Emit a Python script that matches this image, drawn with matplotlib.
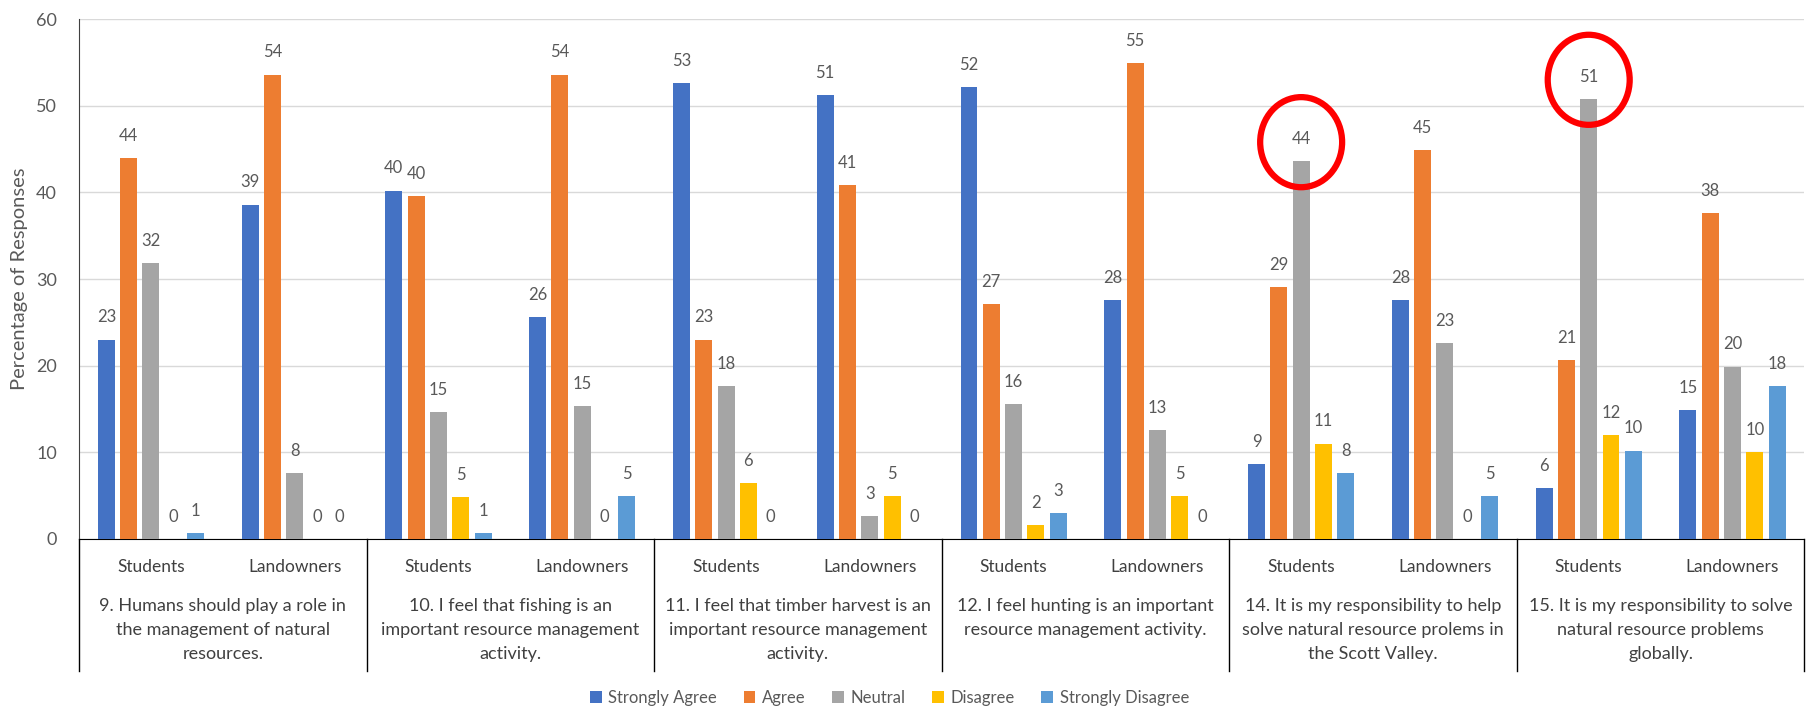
import matplotlib.pyplot as plt
import numpy as np
from matplotlib.patches import Ellipse

plt.rcParams['font.family'] = ['Lato', 'DejaVu Sans']

questions = ['9. Humans should play a role in\nthe management of natural\nresources.',
             '10. I feel that fishing is an\nimportant resource management\nactivity.',
             '11. I feel that timber harvest is an\nimportant resource management\nactivity.',
             '12. I feel hunting is an important\nresource management activity.',
             '14. It is my responsibility to help\nsolve natural resource prolems in\nthe Scott Valley.',
             '15. It is my responsibility to solve\nnatural resource problems\nglobally.']
groups = ['Students', 'Landowners']
series = ['Strongly Agree', 'Agree', 'Neutral', 'Disagree', 'Strongly Disagree']
colors = ['#4472C4', '#ED7D31', '#A5A5A5', '#FFC000', '#5B9BD5']

# one value per category (question x group), in order Q9 S, Q9 L, Q10 S, ...
strongly_agree = [23.0, 38.6, 40.2, 25.6, 52.6, 51.2, 52.2, 27.6, 8.6, 27.6, 5.9, 14.9]
agree = [44.0, 53.6, 39.6, 53.6, 23.0, 40.8, 27.1, 54.9, 29.1, 44.9, 20.6, 37.6]
neutral = [31.8, 7.6, 14.6, 15.3, 17.6, 2.6, 15.6, 12.6, 43.6, 22.6, 50.8, 19.9]
disagree = [0, 0, 4.8, 0, 6.4, 4.9, 1.6, 4.9, 11.0, 0, 12.0, 10.0]
strongly_disagree = [0.66, 0, 0.66, 4.9, 0, 0, 3.0, 0, 7.6, 4.9, 10.2, 17.6]
highlighted = [(8, 2), (10, 2)]  # (category, series) circled in red

data = [strongly_agree, agree, neutral, disagree, strongly_disagree]
ncat = len(strongly_agree)
x = np.arange(ncat)
step = 0.155
width = 0.118
text_col = '#595959'

fig = plt.figure(figsize=(18.08, 7.10), dpi=100)
ax = fig.add_axes([0.0437, 0.241, 0.9543, 0.732])

for i, (name, vals) in enumerate(zip(series, data)):
    pos = x + (i - 2) * step
    ax.bar(pos, vals, width, color=colors[i], label=name, zorder=3)
    for px, v in zip(pos, vals):
        ax.annotate('%.0f' % v, (px, v), xytext=(0, 16), textcoords='offset points',
                    ha='center', va='center', fontsize=12, color=text_col)

for c, s in highlighted:
    v = data[s][c]
    ax.add_patch(Ellipse((x[c] + (s - 2) * step, v + 2.2), 0.57, 10.4, fill=False,
                         edgecolor='#FF0000', linewidth=4.5, zorder=5, clip_on=False))

ax.set_xlim(-0.5, ncat - 0.5)
ax.set_ylim(0, 60)
ax.set_yticks(range(0, 61, 10))
ax.tick_params(axis='y', length=0, labelsize=13, labelcolor=text_col, pad=16)
ax.set_xticks([])
ax.grid(axis='y', color='#D9D9D9', linewidth=1, zorder=0)
ax.set_axisbelow(True)
for sp in ['top', 'right']:
    ax.spines[sp].set_visible(False)
ax.spines['left'].set_color('#404040')
ax.spines['bottom'].set_color('#000000')
ax.set_ylabel('Percentage of Responses', fontsize=14.5, color=text_col, labelpad=6)

tr = ax.get_xaxis_transform()
for c in range(ncat):
    ax.text(x[c], -0.054, groups[c % 2], transform=tr, ha='center', va='center',
            fontsize=12.5, color='#404040')
for q, txt in enumerate(questions):
    ax.text(2 * q + 0.5, -0.114, txt, transform=tr, ha='center', va='top',
            fontsize=13, color='#404040', linespacing=1.62)
for b in range(len(questions) + 1):
    ax.plot([2 * b - 0.5, 2 * b - 0.5], [0, -0.254], transform=tr, color='#000000',
            linewidth=1, clip_on=False)

fig.legend(loc='center', bbox_to_anchor=(0.492, 0.017), ncol=5, frameon=False,
           fontsize=12, handlelength=0.7, handleheight=0.7, handletextpad=0.4,
           columnspacing=1.6, labelcolor=text_col)

fig.savefig('out.png', dpi=100)
